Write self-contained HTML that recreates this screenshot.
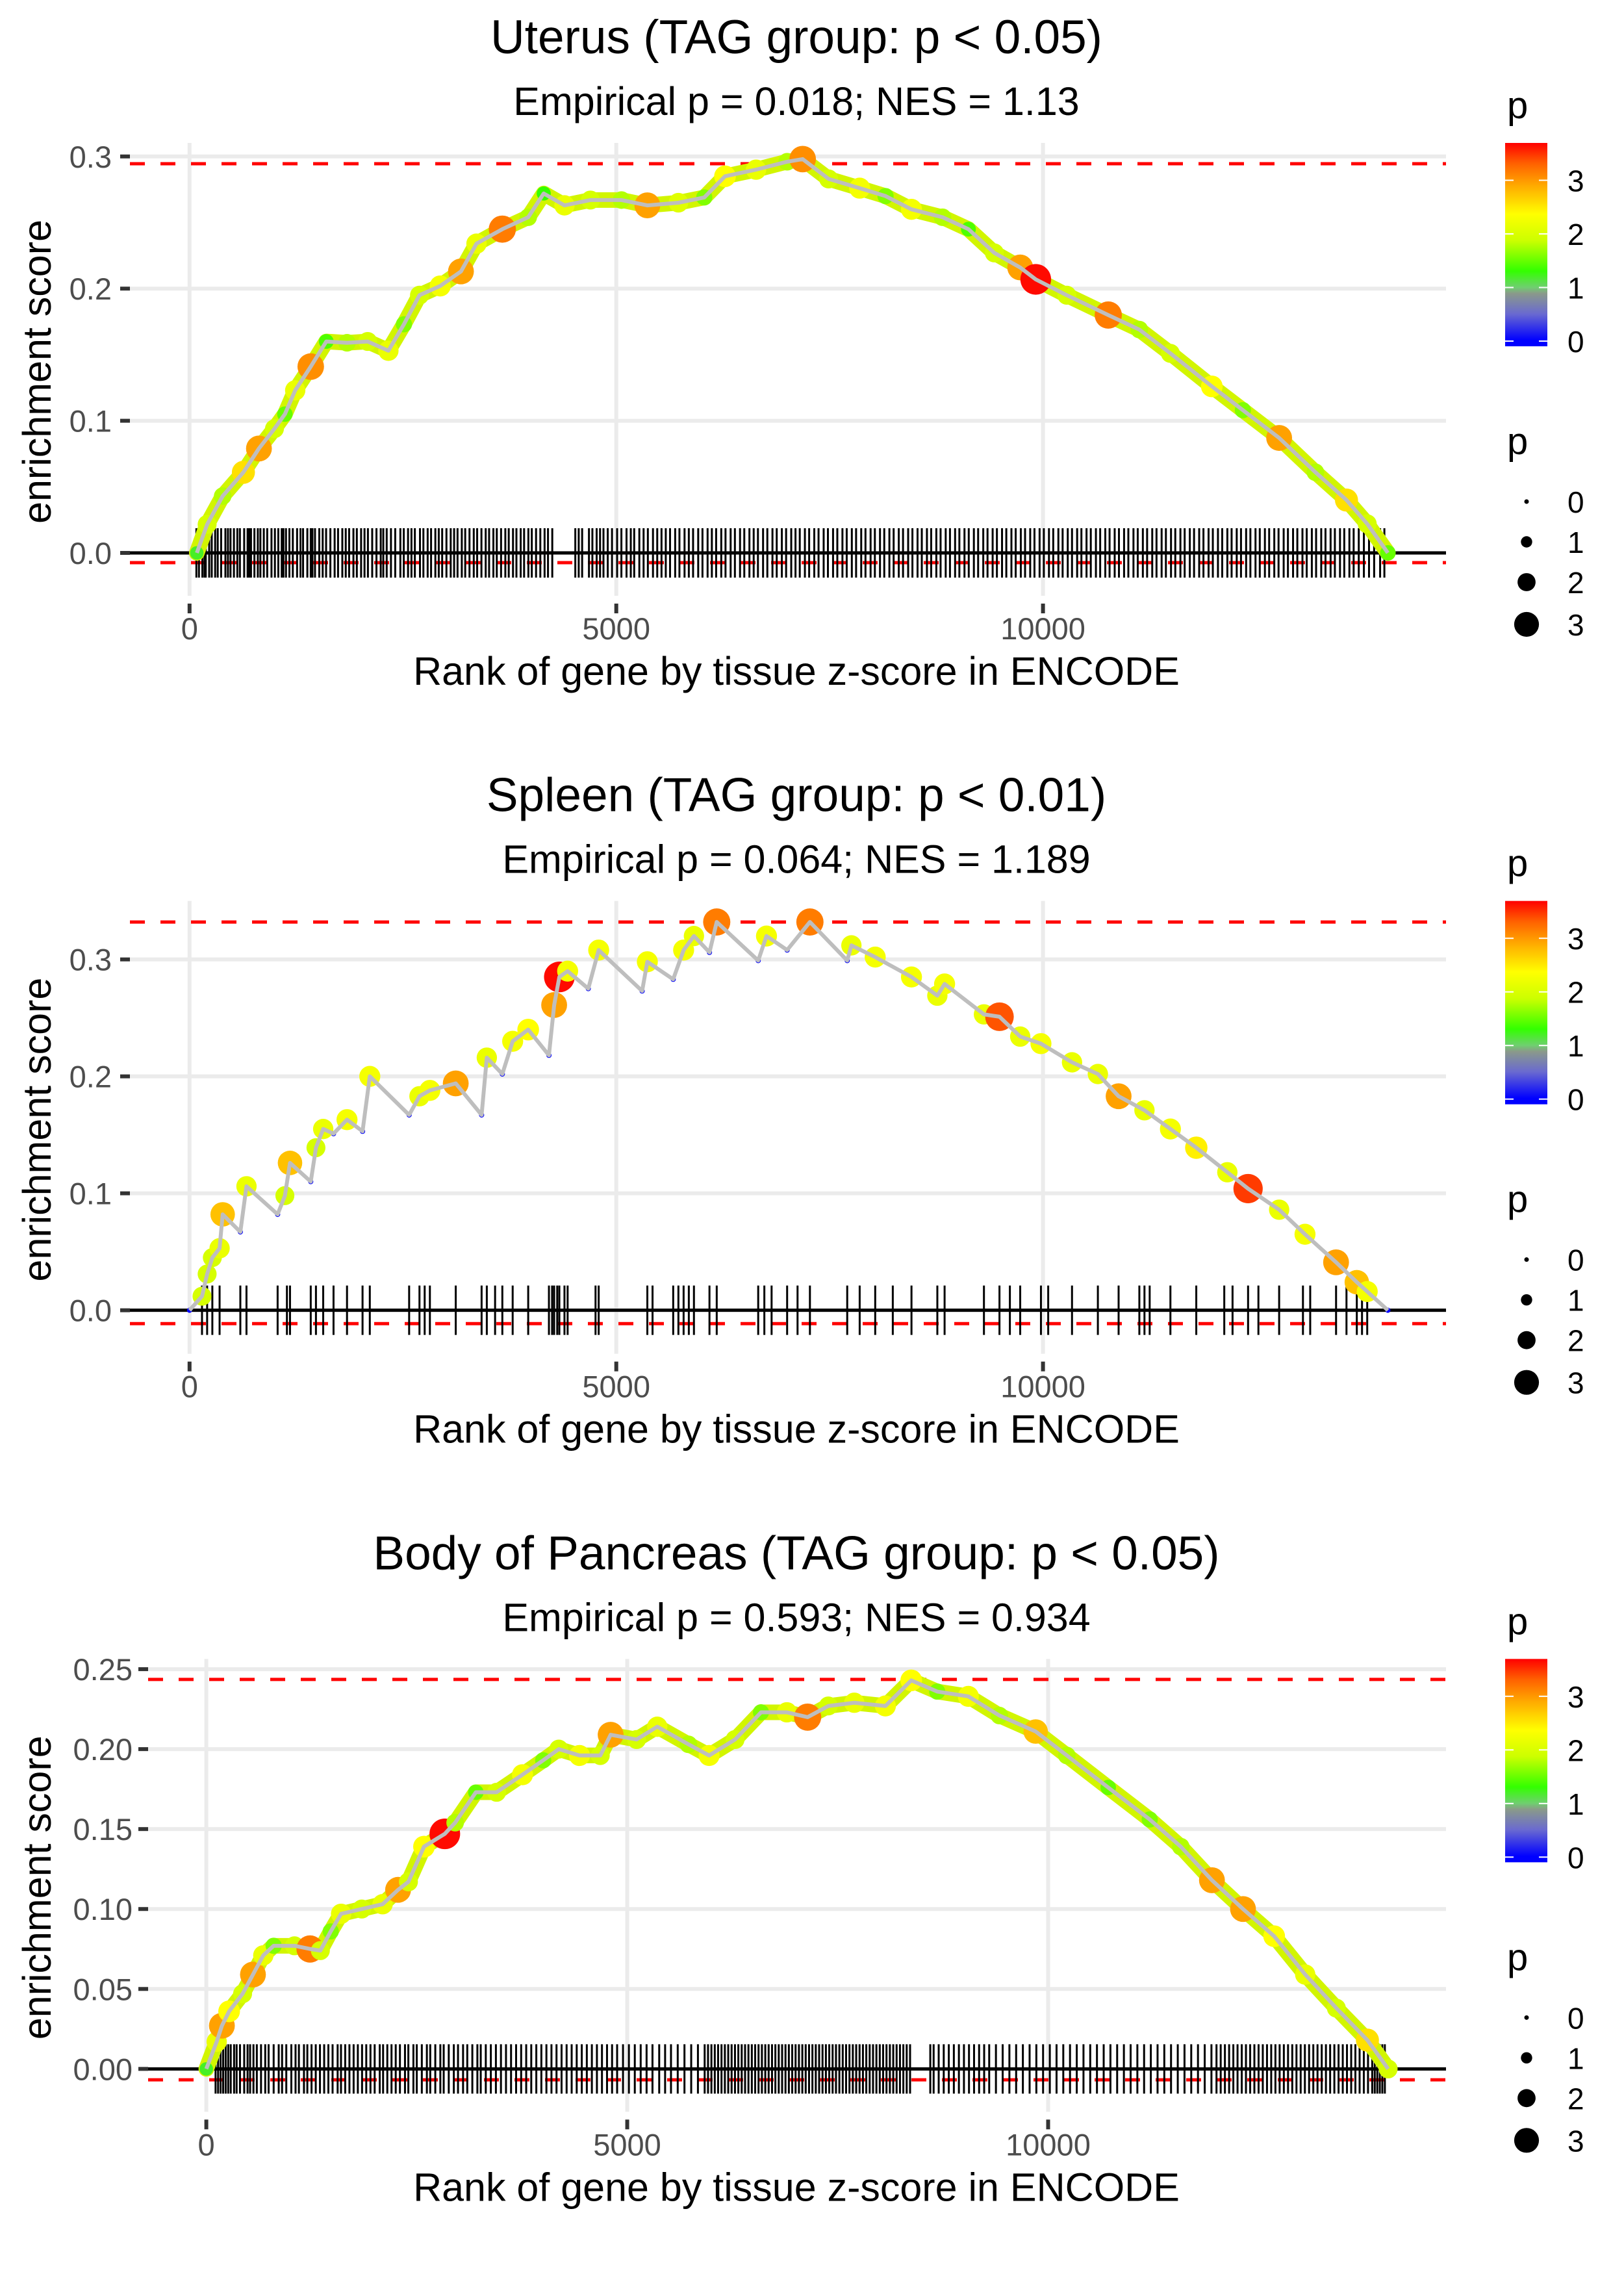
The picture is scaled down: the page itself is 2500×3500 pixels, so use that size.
<!DOCTYPE html>
<html><head><meta charset="utf-8"><title>Enrichment plots</title>
<style>
html,body{margin:0;padding:0;background:#fff;}
svg{display:block;font-family:"Liberation Sans",Arial,sans-serif;}
</style></head>
<body>
<svg id="chart" width="2500" height="3500" viewBox="0 0 2500 3500" xmlns="http://www.w3.org/2000/svg">
<defs>
<linearGradient id="pgrad" x1="0" y1="1" x2="0" y2="0">
<stop offset="0" stop-color="#0000ff"/>
<stop offset="0.03" stop-color="#0000ff"/>
<stop offset="0.16" stop-color="#6a6ad0"/>
<stop offset="0.26" stop-color="#8a9a8a"/>
<stop offset="0.29" stop-color="#6fcf6f"/>
<stop offset="0.37" stop-color="#33ff00"/>
<stop offset="0.52" stop-color="#ccff00"/>
<stop offset="0.65" stop-color="#ffff00"/>
<stop offset="0.79" stop-color="#ffaa00"/>
<stop offset="0.9" stop-color="#ff6000"/>
<stop offset="1" stop-color="#ff0000"/>
</linearGradient>
</defs>
</svg>
<script>
// ---------- Panel 1: Uterus ----------
const p1Rank=[85,206,388,631,813,995,1117,1238,1420,1602,1845,2087,2330,2512,2694,2937,3180,3362,3665,3968,4150,4393,4697,5061,5364,5728,6031,6274,6638,7002,7184,7488,7852,8155,8459,8823,9126,9430,9733,9915,10279,10765,11129,11493,11978,12342,12767,13192,13556,13799,14041];
const p1ES=[0,0.0216,0.043,0.061,0.079,0.094,0.105,0.123,0.141,0.160,0.159,0.160,0.153,0.173,0.195,0.202,0.213,0.234,0.245,0.254,0.272,0.263,0.267,0.267,0.263,0.265,0.269,0.285,0.290,0.296,0.298,0.283,0.276,0.270,0.260,0.254,0.245,0.227,0.216,0.207,0.195,0.180,0.169,0.151,0.126,0.108,0.087,0.061,0.040,0.022,0.0];
const p1P=[1.2,2.0,1.8,2.6,3.0,2.0,1.5,2.2,3.1,1.4,1.8,2.0,2.2,1.6,2.0,2.3,3.0,2.2,3.2,1.8,1.3,2.2,2.0,1.8,3.0,2.1,1.6,2.4,2.2,1.8,3.1,2.0,2.3,1.6,2.3,1.8,1.4,2.0,3.0,3.7,2.0,3.2,1.8,2.0,2.4,1.6,3.0,1.8,2.6,2.0,1.5];
const p1Rug=[80,110,150,175,190,230,260,300,330,370,420,450,480,520,560,590,640,680,700,720,760,800,830,870,910,960,1000,1040,1080,1100,1130,1170,1210,1260,1300,1330,1380,1420,1440,1470,1520,1560,1600,1650,1700,1740,1790,1830,1870,1920,1960,2010,2050,2090,2140,2190,2240,2270,2310,2360,2410,2470,2510,2560,2600,2640,2700,2740,2790,2830,2880,2920,2960,3010,3060,3100,3140,3190,3230,3280,3330,3370,3420,3470,3510,3560,3600,3650,3700,3740,3790,3830,3880,3920,3970,4010,4060,4110,4160,4200,4250,4520,4560,4600,4680,4720,4770,4810,4850,4900,4950,5010,5060,5120,5170,5210,5270,5320,5370,5430,5480,5530,5580,5630,5690,5740,5800,5850,5900,5960,6010,6070,6120,6170,6230,6280,6340,6390,6450,6500,6560,6610,6660,6720,6770,6830,6880,6940,6990,7050,7100,7150,7210,7260,7320,7370,7430,7480,7540,7590,7650,7700,7760,7810,7870,7920,7980,8030,8090,8140,8200,8250,8310,8360,8420,8470,8530,8580,8640,8690,8750,8800,8860,8910,8970,9020,9080,9130,9190,9240,9300,9350,9410,9460,9520,9570,9630,9680,9740,9790,9850,9900,9960,10010,10070,10120,10180,10230,10290,10340,10400,10450,10510,10560,10620,10670,10730,10780,10840,10890,10950,11000,11060,11110,11170,11220,11280,11330,11390,11440,11500,11550,11610,11660,11720,11770,11830,11880,11940,11990,12050,12100,12160,12210,12270,12320,12380,12430,12490,12540,12600,12650,12710,12760,12820,12870,12930,12980,13040,13090,13150,13200,13260,13310,13370,13420,13480,13530,13590,13640,13700,13760,13820,13880,13950,14000];
const p1YTicks=[0,0.1,0.2,0.3];
const p1YLabels=["0.0","0.1","0.2","0.3"];

// ---------- Panel 2: Spleen ----------
const p2Rank=[0,146,206,267,352,388,595,667,1032,1117,1177,1420,1481,1566,1687,1845,2027,2112,2573,2694,2816,3119,3422,3483,3665,3786,3968,4211,4272,4333,4430,4672,4794,5303,5364,5667,5789,5910,6092,6177,6663,6760,7002,7269,7706,7755,8034,8459,8762,8847,9308,9490,9733,9976,10340,10643,10886,11189,11493,11796,12160,12403,12767,13070,13434,13677,13799,14041];
const p2ES=[0,0.012,0.031,0.045,0.053,0.082,0.067,0.106,0.082,0.098,0.126,0.110,0.139,0.155,0.151,0.163,0.153,0.200,0.167,0.183,0.188,0.194,0.167,0.216,0.202,0.230,0.240,0.218,0.261,0.285,0.290,0.275,0.308,0.273,0.298,0.283,0.308,0.320,0.306,0.332,0.299,0.320,0.308,0.332,0.299,0.312,0.302,0.285,0.269,0.279,0.253,0.251,0.234,0.228,0.212,0.202,0.183,0.171,0.155,0.139,0.118,0.104,0.086,0.065,0.041,0.024,0.016,0];
const p2P=[0,2.0,2.0,2.0,2.2,2.8,0,2.2,0,2.0,2.8,0,2.0,2.2,0,2.3,0,2.3,0,2.2,2.3,3.0,0,2.2,0,2.3,2.4,0,3.0,3.7,2.3,0,2.3,0,2.3,0,2.3,2.2,0,3.2,0,2.3,0,3.2,0,2.2,2.3,2.3,2.2,2.3,2.2,3.4,2.2,2.3,2.2,2.2,3.0,2.2,2.3,2.5,2.2,3.5,2.2,2.3,3.0,2.8,2.3,0];
const p2Rug=[146,206,267,352,595,667,1032,1141,1177,1420,1481,1566,1687,1845,2027,2112,2573,2694,2755,2816,3119,3422,3483,3580,3665,3786,3968,4211,4248,4272,4308,4333,4393,4430,4757,4794,5364,5425,5667,5728,5789,5850,5910,6092,6177,6663,6735,6820,7002,7124,7269,7706,7852,8034,8240,8459,8762,8847,9308,9490,9612,9733,9976,10061,10340,10643,10886,11129,11189,11250,11493,11796,12124,12221,12403,12524,12767,13046,13131,13434,13556,13677,13738,13799];
const p2YTicks=[0,0.1,0.2,0.3];
const p2YLabels=["0.0","0.1","0.2","0.3"];

// ---------- Panel 3: Body of Pancreas ----------
const p3Rank=[0,123,185,271,431,554,677,800,1047,1232,1355,1478,1601,1847,2094,2278,2401,2586,2833,2956,3202,3448,3756,4002,4187,4433,4680,4803,5111,5357,5727,5973,6281,6589,6897,7143,7389,7697,8067,8374,8682,9052,9421,9852,10222,10714,11207,11576,11946,12315,12685,13054,13424,13793,14039];
const p3ES=[0,0.017,0.027,0.036,0.047,0.059,0.071,0.077,0.077,0.075,0.074,0.086,0.097,0.100,0.103,0.112,0.117,0.139,0.147,0.154,0.173,0.173,0.184,0.193,0.200,0.196,0.196,0.209,0.206,0.214,0.203,0.196,0.206,0.223,0.223,0.220,0.227,0.229,0.227,0.243,0.236,0.233,0.221,0.211,0.196,0.176,0.156,0.139,0.118,0.100,0.083,0.059,0.038,0.018,0];
const p3P=[1.2,2.2,3.0,2.4,2.0,3.0,2.2,1.6,2.0,3.2,2.0,1.6,2.2,2.0,2.2,3.0,2.0,2.4,3.7,1.8,1.5,2.0,2.3,1.6,2.0,2.3,2.0,3.0,2.0,2.2,1.8,2.3,2.0,1.6,2.2,3.2,2.0,2.2,2.3,2.4,1.6,2.3,1.8,2.8,1.8,1.5,1.6,1.8,3.0,3.0,2.4,2.2,2.0,2.6,2.0];
const p3Rug=[110,140,170,200,230,260,290,330,360,400,450,490,520,560,600,650,700,740,800,860,900,950,1010,1060,1100,1160,1200,1250,1300,1350,1400,1450,1500,1560,1600,1650,1700,1750,1800,1850,1900,1950,2000,2060,2100,2150,2200,2250,2300,2360,2400,2460,2500,2560,2620,2660,2720,2780,2820,2880,2940,2990,3050,3100,3160,3220,3260,3320,3380,3440,3500,3560,3620,3680,3740,3800,3860,3920,3980,4040,4100,4160,4220,4280,4340,4400,4460,4520,4580,4640,4700,4760,4820,4880,4950,5020,5090,5160,5230,5300,5380,5450,5520,5600,5680,5760,5840,5920,5960,6000,6040,6080,6120,6160,6200,6240,6280,6320,6360,6400,6440,6480,6520,6560,6600,6640,6680,6720,6760,6800,6840,6880,6920,6960,7000,7040,7080,7120,7160,7200,7240,7280,7320,7360,7400,7440,7480,7520,7560,7600,7640,7680,7720,7760,7800,7840,7880,7920,7960,8000,8040,8080,8120,8160,8200,8240,8280,8320,8360,8600,8640,8700,8760,8820,8880,8940,9000,9060,9120,9180,9240,9300,9380,9460,9540,9620,9700,9780,9860,9940,10020,10100,10180,10260,10340,10420,10500,10580,10660,10740,10820,10900,10980,11060,11140,11220,11300,11380,11460,11540,11620,11700,11780,11860,11940,12000,12050,12100,12150,12200,12250,12300,12350,12400,12450,12500,12550,12600,12650,12700,12750,12800,12850,12900,12950,13000,13050,13100,13150,13200,13250,13300,13350,13400,13450,13500,13550,13600,13650,13700,13750,13800,13850,13880,13910,13940,13970,14000];
const p3YTicks=[0,0.05,0.10,0.15,0.20,0.25];
const p3YLabels=["0.00","0.05","0.10","0.15","0.20","0.25"];

const xTicks=[0,5000,10000];
const xLabels=["0","5000","10000"];
const legendVals=[0,1,2,3];

const NS="http://www.w3.org/2000/svg";
const svg=document.getElementById('chart');
function mk(tag,attrs,parent){const e=document.createElementNS(NS,tag);for(const k in attrs)e.setAttribute(k,attrs[k]);(parent||svg).appendChild(e);return e;}

function pColor(p){
  const st=[[-0.1,[0,0,255]],[0,[0,0,255]],[0.5,[106,106,208]],[0.9,[138,154,138]],[1.0,[111,207,111]],[1.3,[51,255,0]],[1.9,[204,255,0]],[2.4,[255,255,0]],[2.95,[255,170,0]],[3.35,[255,96,0]],[3.74,[255,0,0]]];
  if(p<=st[0][0])return 'rgb(0,0,255)';
  for(let i=1;i<st.length;i++){if(p<=st[i][0]){const a=st[i-1],b=st[i];const t=(p-a[0])/(b[0]-a[0]);const c=a[1].map((v,j)=>Math.round(v+(b[1][j]-v)*t));return 'rgb('+c.join(',')+')';}}
  return 'rgb(255,0,0)';
}
function pRadius(p){return 4+5.3*p;}

const panels=[
 {off:0,title:"Uterus (TAG group: p < 0.05)",sub:"Empirical p = 0.018; NES = 1.13",rank:p1Rank,es:p1ES,pv:p1P,rug:p1Rug,yt:p1YTicks,yl:p1YLabels,x0:291.8,xs:0.13138,zero:851,scale:2034,left:200,labEnd:172,maxES:0.2945,minES:-0.0074,band:true,name:'uterus'},
 {off:1166.67,title:"Spleen (TAG group: p < 0.01)",sub:"Empirical p = 0.064; NES = 1.189",rank:p2Rank,es:p2ES,pv:p2P,rug:p2Rug,yt:p2YTicks,yl:p2YLabels,x0:291.8,xs:0.13138,zero:850,scale:1800,left:200,labEnd:172,maxES:0.332,minES:-0.0114,band:false,name:'spleen'},
 {off:2333.33,title:"Body of Pancreas (TAG group: p < 0.05)",sub:"Empirical p = 0.593; NES = 0.934",rank:p3Rank,es:p3ES,pv:p3P,rug:p3Rug,yt:p3YTicks,yl:p3YLabels,x0:317.6,xs:0.12959,zero:851,scale:2461,left:228,labEnd:204,maxES:0.2436,minES:-0.0068,band:true,name:'pancreas'}
];
const RIGHT=2226, TOP=220, BOTTOM=917;

panels.forEach(P=>{
  const g=mk('g',{transform:'translate(0,'+P.off+')'});
  
  
  const X=r=>P.x0+r*P.xs;
  const Y=v=>P.zero-v*P.scale;
  const t=mk('text',{x:1226,y:82,'text-anchor':'middle','font-size':73,fill:'#000'},g);t.textContent=P.title;
  
  
  const s=mk('text',{x:1226,y:177,'text-anchor':'middle','font-size':61,fill:'#000'},g);s.textContent=P.sub;
  
  
  P.yt.forEach((v,i)=>{
    const gl=mk('line',{x1:P.left,x2:RIGHT,y1:Y(v),y2:Y(v),stroke:'#ebebeb','stroke-width':6},g);
    
    
    mk('line',{x1:P.left-15,x2:P.left,y1:Y(v),y2:Y(v),stroke:'#333','stroke-width':6},g);
    const tl=mk('text',{x:P.labEnd,y:Y(v)+17,'text-anchor':'end','font-size':47,fill:'#4d4d4d'},g);tl.textContent=P.yl[i];
    
    
  });
  xTicks.forEach((v,i)=>{
    const gl=mk('line',{x1:X(v),x2:X(v),y1:TOP,y2:BOTTOM,stroke:'#ebebeb','stroke-width':6},g);
    
    
    mk('line',{x1:X(v),x2:X(v),y1:BOTTOM+12,y2:BOTTOM+27,stroke:'#333','stroke-width':6},g);
    const tl=mk('text',{x:X(v),y:984,'text-anchor':'middle','font-size':47,fill:'#4d4d4d'},g);tl.textContent=xLabels[i];
    
    
  });
  const xt=mk('text',{x:1226,y:1054,'text-anchor':'middle','font-size':61,fill:'#000'},g);xt.textContent="Rank of gene by tissue z-score in ENCODE";
  
  
  const yt=mk('text',{x:0,y:0,'text-anchor':'middle','font-size':61,fill:'#000',transform:'translate(78,572) rotate(-90)'},g);yt.textContent="enrichment score";
  
  
  [P.maxES,P.minES].forEach((v,i)=>{
    const l=mk('line',{x1:P.left,x2:RIGHT,y1:Y(v),y2:Y(v),stroke:'#ff0000','stroke-width':5,'stroke-dasharray':'23 24'},g);
    
    
  });
  const z=mk('line',{x1:P.left,x2:RIGHT,y1:Y(0),y2:Y(0),stroke:'#000','stroke-width':5},g);
  
  
  const rg=mk('g',{},g);
  
  
  P.rug.forEach(r=>{
    const l=mk('line',{x1:X(r),x2:X(r),y1:Y(0)-38,y2:Y(0)+38,stroke:'#000','stroke-width':3},rg);
    
    
  });
  const pts=P.rank.map((r,i)=>X(r).toFixed(1)+','+Y(P.es[i]).toFixed(1)).join(' ');
  if(P.band){
    const b=mk('polyline',{points:pts,fill:'none',stroke:'#d2f500','stroke-width':24,'stroke-linejoin':'round','stroke-linecap':'round'},g);
    
    
  }
  P.rank.forEach((r,i)=>{
    const c=mk('circle',{cx:X(r),cy:Y(P.es[i]),r:pRadius(P.pv[i]),fill:pColor(P.pv[i])},g);
    
    
  });
  const ln=mk('polyline',{points:pts,fill:'none',stroke:'#bebebe','stroke-width':6,'stroke-linejoin':'round'},g);
  
  

  const lt=mk('text',{x:2320,y:182,'font-size':58,fill:'#000'},g);lt.textContent='p';
  
  
  const bar=mk('rect',{x:2317,y:220,width:65,height:313,fill:'url(#pgrad)'},g);
  
  
  legendVals.forEach(v=>{
    const yy=525-82.5*v;
    mk('line',{x1:2317,x2:2330,y1:yy,y2:yy,stroke:'#fff','stroke-width':2},g);
    mk('line',{x1:2369,x2:2382,y1:yy,y2:yy,stroke:'#fff','stroke-width':2},g);
    const lb=mk('text',{x:2413,y:yy+17,'font-size':46,fill:'#000'},g);lb.textContent=String(v);
    
    
  });
  const st=mk('text',{x:2320,y:699,'font-size':58,fill:'#000'},g);st.textContent='p';
  
  
  const sy=[772,834,896,961];
  legendVals.forEach((v,i)=>{
    const c=mk('circle',{cx:2350,cy:sy[i],r:3.5+5.2*v,fill:'#000'},g);
    
    
    const lb=mk('text',{x:2413,y:sy[i]+17,'font-size':46,fill:'#000'},g);lb.textContent=String(v);
    
    
  });
});
</script>
</body></html>
